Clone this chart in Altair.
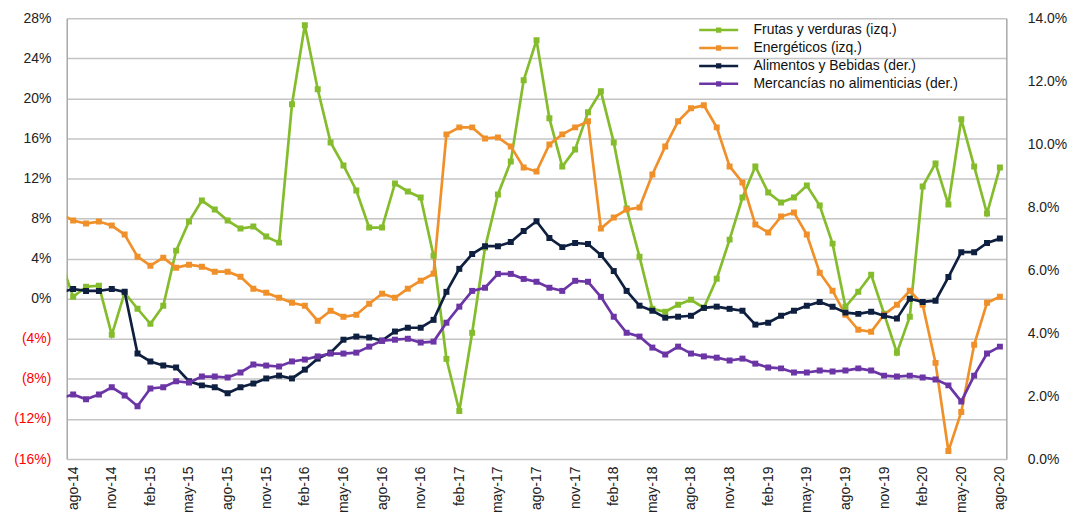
import altair as alt
import pandas as pd

# Month labels (jul-14 .. ago-20); jul-14 lies just outside the plotted range (clipped)
meses = [
    "jul-14", "ago-14", "sep-14", "oct-14", "nov-14", "dic-14",
    "ene-15", "feb-15", "mar-15", "abr-15", "may-15", "jun-15", "jul-15", "ago-15", "sep-15", "oct-15", "nov-15", "dic-15",
    "ene-16", "feb-16", "mar-16", "abr-16", "may-16", "jun-16", "jul-16", "ago-16", "sep-16", "oct-16", "nov-16", "dic-16",
    "ene-17", "feb-17", "mar-17", "abr-17", "may-17", "jun-17", "jul-17", "ago-17", "sep-17", "oct-17", "nov-17", "dic-17",
    "ene-18", "feb-18", "mar-18", "abr-18", "may-18", "jun-18", "jul-18", "ago-18", "sep-18", "oct-18", "nov-18", "dic-18",
    "ene-19", "feb-19", "mar-19", "abr-19", "may-19", "jun-19", "jul-19", "ago-19", "sep-19", "oct-19", "nov-19", "dic-19",
    "ene-20", "feb-20", "mar-20", "abr-20", "may-20", "jun-20", "jul-20", "ago-20",
]

# Left axis series (%)
frutas = [
    3.9, 0.2, 1.2, 1.3, -3.6, 0.6,
    -1.0, -2.5, -0.7, 4.8, 7.7, 9.8, 8.9, 7.8, 7.0, 7.2, 6.2, 5.6,
    19.4, 27.3, 20.9, 15.6, 13.3, 10.8, 7.1, 7.1, 11.5, 10.7, 10.1, 4.3,
    -6.0, -11.2, -3.4, 5.1, 10.4, 13.7, 21.8, 25.8, 18.0, 13.2, 14.9, 18.6,
    20.7, 15.6, 9.0, 4.2, -1.0, -1.3, -0.6, -0.1, -0.9, 2.0, 5.9, 10.1,
    13.2, 10.6, 9.6, 10.1, 11.3, 9.3, 5.5, -0.8, 0.7, 2.4, -1.5, -5.4,
    -1.8, 11.2, 13.5, 9.4, 17.9, 13.2, 8.5, 13.1,
]
energeticos = [
    8.5, 7.8, 7.5, 7.7, 7.3, 6.4,
    4.2, 3.3, 4.1, 3.1, 3.4, 3.2, 2.7, 2.7, 2.2, 1.0, 0.6, 0.1,
    -0.4, -0.7, -2.2, -1.2, -1.8, -1.6, -0.5, 0.5, 0.1, 1.0, 1.8, 2.5,
    16.4, 17.1, 17.1, 16.0, 16.1, 15.2, 13.1, 12.7, 15.4, 16.4, 17.1, 17.7,
    7.0, 8.1, 8.9, 9.1, 12.4, 15.2, 17.7, 19.0, 19.3, 17.1, 13.2, 11.6,
    7.4, 6.6, 8.2, 8.6, 6.4, 2.6, 0.8, -1.6, -3.1, -3.3, -1.6, -0.6,
    0.8, -0.6, -6.4, -15.2, -11.3, -4.6, -0.4, 0.2,
]
# Right axis series (%)
alimentos = [
    5.29, 5.40, 5.34, 5.34, 5.40, 5.31,
    3.35, 3.10, 2.97, 2.91, 2.47, 2.34, 2.28, 2.09, 2.28, 2.40, 2.56, 2.65,
    2.56, 2.84, 3.19, 3.38, 3.79, 3.89, 3.86, 3.76, 4.05, 4.17, 4.17, 4.42,
    5.31, 6.04, 6.51, 6.76, 6.76, 6.89, 7.24, 7.55, 7.02, 6.73, 6.86, 6.83,
    6.48, 5.97, 5.34, 4.87, 4.71, 4.49, 4.52, 4.55, 4.80, 4.84, 4.77, 4.71,
    4.27, 4.33, 4.55, 4.71, 4.87, 4.99, 4.84, 4.65, 4.61, 4.68, 4.55, 4.46,
    5.09, 4.99, 5.03, 5.78, 6.57, 6.57, 6.86, 7.00,
]
mercancias = [
    1.93, 2.05, 1.90, 2.05, 2.28, 2.02,
    1.68, 2.24, 2.28, 2.47, 2.43, 2.62, 2.62, 2.59, 2.75, 3.00, 2.97, 2.94,
    3.10, 3.16, 3.26, 3.35, 3.35, 3.38, 3.57, 3.76, 3.79, 3.82, 3.70, 3.73,
    4.33, 4.84, 5.34, 5.44, 5.88, 5.88, 5.72, 5.63, 5.44, 5.34, 5.66, 5.63,
    5.15, 4.52, 4.01, 3.89, 3.54, 3.32, 3.57, 3.35, 3.26, 3.22, 3.13, 3.19,
    3.03, 2.91, 2.88, 2.75, 2.75, 2.81, 2.78, 2.81, 2.88, 2.81, 2.65, 2.62,
    2.65, 2.59, 2.53, 2.34, 1.83, 2.65, 3.35, 3.57,
]

series = [
    "Frutas y verduras (izq.)",
    "Energéticos (izq.)",
    "Alimentos y Bebidas (der.)",
    "Mercancías no alimenticias (der.)",
]
colores = ["#84bc2c", "#f0902a", "#0e1f3f", "#6b35a6"]

ticks_izq = [-16, -12, -8, -4, 0, 4, 8, 12, 16, 20, 24, 28]
ticks_der = [0, 2, 4, 6, 8, 10, 12, 14]
etiquetas_x = meses[1::3]


def long_df(names, values_list):
    rows = []
    for name, vals in zip(names, values_list):
        for i, (m, v) in enumerate(zip(meses, vals)):
            rows.append({"idx": i - 1, "mes": m, "serie": name, "valor": v})
    return pd.DataFrame(rows)


df_izq = long_df(series[:2], [frutas, energeticos])
df_der = long_df(series[2:], [alimentos, mercancias])

label_arr = "[" + ",".join("'" + s + "'" for s in etiquetas_x) + "]"
x_axis = alt.Axis(
    values=list(range(0, 73, 3)),
    labelExpr=label_arr + "[round(datum.value/3)]",
    labelAngle=-90,
    grid=False,
    domain=False,
    ticks=False,
    labelPadding=7,
    title=None,
)
x_enc = alt.X("idx:Q", scale=alt.Scale(domain=[-0.5, 72.5], nice=False, zero=False), axis=x_axis)

legend = alt.Legend(
    title=None,
    orient="none",
    legendX=648,
    legendY=5,
    symbolType="M-5.6,0L5.6,0M-0.4,-0.4L0.4,-0.4L0.4,0.4L-0.4,0.4ZM-0.15,-0.15L0.15,-0.15L0.15,0.15L-0.15,0.15Z",
    symbolSize=49,
    symbolStrokeWidth=2.5,
    symbolOpacity=1,
    labelFont="Liberation Sans",
    labelFontSize=14,
    labelColor="#111111",
    labelLimit=400,
    labelOffset=28,
    rowPadding=4,
    padding=0,
)
color_enc = alt.Color(
    "serie:N",
    scale=alt.Scale(domain=series, range=colores),
    sort=series,
    legend=legend,
)

left_axis = alt.Axis(
    values=ticks_izq,
    labelExpr="datum.value < 0 ? '(' + abs(datum.value) + '%)' : datum.value + '%'",
    labelColor={"condition": {"test": "datum.value < 0", "value": "#ff0000"}, "value": "#222222"},
    grid=True,
    gridColor="#c4c4c4",
    gridWidth=1.5,
    domainColor="#a8a8a8",
    domainWidth=1.5,
    ticks=False,
    labelPadding=16,
    title=None,
    orient="left",
)
right_axis = alt.Axis(
    values=ticks_der,
    labelExpr="format(datum.value, '.1f') + '%'",
    grid=False,
    domainColor="#a8a8a8",
    domainWidth=1.5,
    ticks=False,
    labelPadding=21,
    title=None,
    orient="right",
)

base_izq = alt.Chart(df_izq).encode(
    x=x_enc,
    y=alt.Y("valor:Q", scale=alt.Scale(domain=[-16, 28], nice=False, zero=False), axis=left_axis),
    color=color_enc,
    detail="serie:N",
)
capa_izq = alt.layer(
    base_izq.mark_line(strokeWidth=2.7, clip=True),
    base_izq.mark_point(shape="square", filled=True, size=36, opacity=1, clip=True),
)

base_der = alt.Chart(df_der).encode(
    x=x_enc,
    y=alt.Y("valor:Q", scale=alt.Scale(domain=[0, 14], nice=False, zero=False), axis=right_axis),
    color=color_enc,
    detail="serie:N",
)
capa_der = alt.layer(
    base_der.mark_line(strokeWidth=2.7, clip=True),
    base_der.mark_point(shape="square", filled=True, size=36, opacity=1, clip=True),
)

chart = (
    alt.layer(capa_izq, capa_der)
    .resolve_scale(y="independent")
    .properties(
        width=944,
        height=443,
        autosize=alt.AutoSizeParams(type="none"),
        padding={"left": 59, "top": 9, "right": 70, "bottom": 56},
    )
    .configure_view(stroke=None)
    .configure_axis(
        labelFont="Liberation Sans",
        labelFontSize=14,
        labelColor="#222222",
    )
)

chart.save("out.html", embed_options={"renderer": "svg", "actions": False})
